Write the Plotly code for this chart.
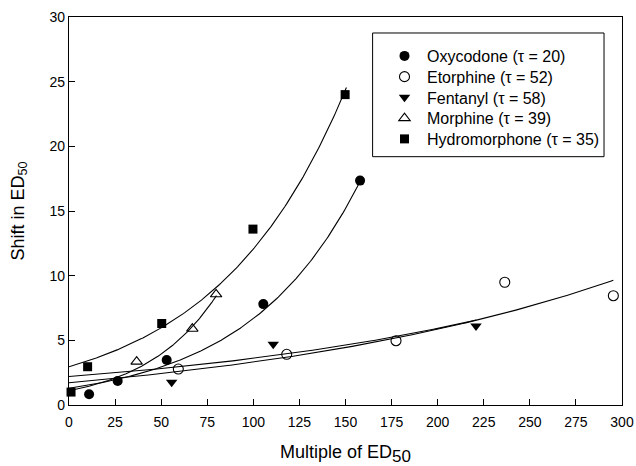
import numpy as np
import plotly.graph_objects as go

# Measured shift in ED50 against the multiple of ED50 given
oxy_x = [10.9, 26.4, 53.0, 105.4, 157.9]
oxy_y = [0.83, 1.86, 3.48, 7.8, 17.35]

eto_x = [59.3, 118.1, 177.4, 236.4, 295.3]
eto_y = [2.78, 3.92, 4.97, 9.49, 8.45]

fen_x = [55.7, 110.8, 220.8]
fen_y = [1.75, 4.7, 6.1]

mor_x = [36.7, 66.9, 79.8]
mor_y = [3.35, 5.9, 8.56]

hyd_x = [1.1, 10.1, 50.3, 99.8, 149.8]
hyd_y = [1.0, 2.96, 6.3, 13.6, 24.0]

drug_names = ["Oxycodone (\u03c4 = 20)", "Etorphine (\u03c4 = 52)", "Fentanyl (\u03c4 = 58)",
              "Morphine (\u03c4 = 39)", "Hydromorphone (\u03c4 = 35)"]

# Fitted curves: y = offset + scale * exp(rate * x), drawn from 0 to x_end
fit_offset = [0.0, -1.02, 0.0, 0.0, 0.0]
fit_scale = [1.29, 2.74, 2.2, 1.1, 2.95]
fit_rate = [0.01644, 0.0046, 0.00495, 0.0255, 0.01408]
fit_end = [158.0, 295.3, 221.0, 80.0, 150.5]

FONT = "Liberation Sans, Arial, Helvetica, sans-serif"

fig = go.Figure()

for off, sc, rt, xe in zip(fit_offset, fit_scale, fit_rate, fit_end):
    xs = np.linspace(0, xe, 200)
    ys = off + sc * np.exp(rt * xs)
    fig.add_trace(go.Scatter(x=xs, y=ys, mode="lines", showlegend=False,
                             line=dict(color="black", width=1.1), hoverinfo="skip"))

series = [
    (oxy_x, oxy_y, dict(symbol="circle", size=10, color="black")),
    (eto_x, eto_y, dict(symbol="circle-open", size=10, color="black", line=dict(width=1.1, color="black"))),
    (fen_x, fen_y, dict(symbol="triangle-down", size=10, color="black")),
    (mor_x, mor_y, dict(symbol="triangle-up-open", size=10, color="black", line=dict(width=1.1, color="black"))),
    (hyd_x, hyd_y, dict(symbol="square", size=9, color="black")),
]

# one legend per series so the rows can sit closely stacked inside the frame
legend_ids = ["legend", "legend2", "legend3", "legend4", "legend5"]
legend_rows = [0.8995, 0.846, 0.7926, 0.7391, 0.6856]

for (xs, ys, mk), name, lid in zip(series, drug_names, legend_ids):
    fig.add_trace(go.Scatter(x=xs, y=ys, mode="markers", name=name, marker=mk,
                             cliponaxis=False, legend=lid))

axis_common = dict(showline=True, mirror=True, linecolor="black", linewidth=1.3,
                   ticks="inside", ticklen=6, tickwidth=1, tickcolor="black",
                   showgrid=False, zeroline=False, automargin=False,
                   tickfont=dict(family=FONT, size=14, color="black"))

legend_style = dict(x=0.566, xanchor="left", yanchor="middle", itemwidth=35,
                    bgcolor="rgba(0,0,0,0)", borderwidth=0,
                    font=dict(family=FONT, size=16, color="black"))

layout_legends = {lid: dict(y=ly, **legend_style) for lid, ly in zip(legend_ids, legend_rows)}

fig.update_layout(
    width=636, height=466,
    margin=dict(l=69, r=14, t=17, b=61),
    paper_bgcolor="white", plot_bgcolor="white",
    font=dict(family=FONT, color="black"),
    xaxis=dict(range=[0, 300], tickvals=list(range(0, 301, 25)), ticklabelstandoff=4,
               title=dict(text='Multiple of ED<sub><span style="font-size:17px">50</span></sub>',
                          font=dict(size=18), standoff=17),
               **axis_common),
    yaxis=dict(range=[0, 30], tickvals=list(range(0, 31, 5)),
               title=dict(text="Shift in ED<sub>50</sub>", font=dict(size=18), standoff=20),
               **axis_common),
    shapes=[dict(type="rect", xref="paper", yref="paper",
                 x0=0.549, x1=0.9675, y0=0.64, y1=0.9588,
                 line=dict(color="black", width=1))],
    **layout_legends,
)

fig.write_html("out.html")
